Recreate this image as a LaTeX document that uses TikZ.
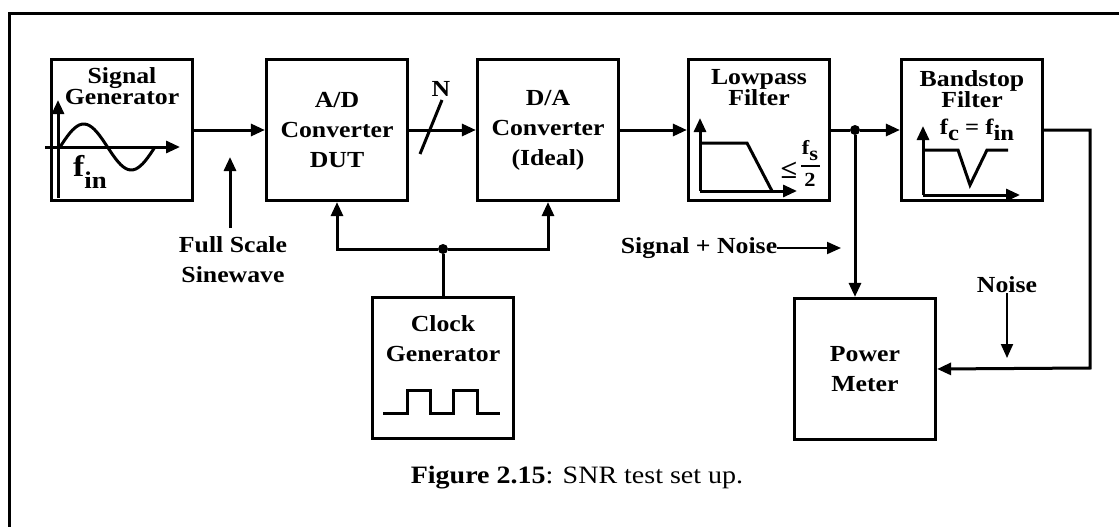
\documentclass[tikz,border=0pt]{standalone}
\usepackage{fontspec}
\setmainfont{Liberation Serif}[FakeStretch=1.12]
\usetikzlibrary{arrows.meta,positioning}
\tikzset{
  blk/.style={draw, line width=3.2pt, minimum width=141pt, minimum height=141pt, inner sep=0pt, align=center, font=\bfseries\fontsize{23}{30}\selectfont},
  ttl/.style={align=center, inner sep=0pt, font=\bfseries\fontsize{23}{21}\selectfont},
  txt/.style={align=center, inner sep=0pt, font=\bfseries\fontsize{23}{30}\selectfont},
  sym/.style={inner sep=0pt, font=\bfseries\fontsize{20}{20}\selectfont},
  wire/.style={line width=3pt},
  thin wire/.style={line width=2pt},
  jdot/.style={circle, fill, inner sep=0pt, minimum size=10pt},
}
\begin{document}
\begin{tikzpicture}[x=1pt, y=-1pt, >={Triangle[length=14pt,width=12pt]}]
\useasboundingbox (0,0) rectangle (1119,527);
\draw[wire] (9,527) -- (9,14) -- (1119,14);

\node[blk] (sig) at (122,130) {};
\node[ttl] (sigt) at (122,86) {Signal\\Generator};
\node[blk] (adc) at (337,130) {A/D\\Converter\\DUT};
\node[blk] (dac) at (548,130) {D/A\\Converter\\(Ideal)};
\node[blk] (lpf) at (759,130) {};
\node[ttl] (lpft) at (759,88) {Lowpass\\Filter};
\node[blk] (bsf) at (972,130) {};
\node[ttl] (bsft) at (972,89) {Bandstop\\Filter};
\node[blk] (clk) at (443,368) {};
\node[txt] (clkt) at (443,339) {Clock\\Generator};
\node[blk] (pwr) at (865,369) {Power\\Meter};

\draw[wire,->] (58,198) -- (58,100);
\draw[wire,->] (45,147) -- (180,147);
\draw[wire,domain=0:1,samples=40,smooth] plot ({60+95*\x},{147-23*sin(360*\x)});
\node[inner sep=0pt, font=\bfseries\fontsize{30}{30}\selectfont] (fin) at (90,172) {f\raisebox{-0.4em}{\fontsize{24}{24}\selectfont in}};

\draw[wire,->] (700,191) -- (700,118);
\draw[wire,->] (700,191) -- (797,191);
\draw[wire] (700,143) -- (747,143) -- (772,191);
\node[sym, font=\bfseries\fontsize{27}{27}\selectfont] (le) at (789,170) {≤};
\node[sym] (fsn) at (810,151) {f\raisebox{-0.3em}{s}};
\draw[line width=1.5pt] (801,166) -- (820,166);
\node[sym] (fsd) at (810,180) {2};

\draw[wire,->] (923,195) -- (923,126);
\draw[wire,->] (923,195) -- (1020,195);
\draw[wire] (923,150) -- (958,150) -- (970,185) -- (987,150) -- (1008,150);
\node[sym, font=\bfseries\fontsize{22}{22}\selectfont] (fcin) at (977,130) {f\raisebox{-0.3em}{c} = f\raisebox{-0.3em}{in}};

\draw[wire] (383,413) -- (407,413) -- (407,390) -- (430,390) -- (430,413) -- (453,413) -- (453,390) -- (477,390) -- (477,413) -- (500,413);

\draw[wire,->] (sig) -- (adc);
\draw[wire,->] (adc) -- (dac);
\draw[wire] (420,154) -- (442,100);
\node[txt] (nbits) at (441,89) {N};
\draw[wire,->] (dac) -- (lpf);
\node[jdot] (j) at (855,130) {};
\draw[wire] (lpf) -- (j);
\draw[wire,->] (j) -- (bsf);
\draw[wire,->] (j) -- (j |- pwr.north);
\coordinate (bend) at (1090,368);
\draw[wire,->] (bsf.east) -| (bend) -- (pwr.east);

\node[txt, anchor=north] (fs) at (233,236) {Full Scale\\Sinewave};
\coordinate (fsbase) at (230,228);
\coordinate (fsend) at (230,157);
\draw[wire,->] (fsbase) -- (fsend);

\node[txt] (sn) at (699,248) {Signal + Noise};
\coordinate (snend) at (841,248);
\draw[thin wire,->] (sn) -- (snend);
\node[txt] (noise) at (1007,285) {Noise};
\coordinate (noiseend) at (1007,358);
\draw[thin wire,->] (noise) -- (noiseend);

\node[jdot] (cj) at (443,249) {};
\draw[wire] (clk) -- (cj);
\draw[wire,->] (cj) -| (adc.south);
\draw[wire,->] (cj) -| (dac.south);

\node[font=\fontsize{25}{30}\selectfont] (cap) at (577,478) {\textbf{Figure 2.15}: SNR test set up.};
\end{tikzpicture}
\end{document}
